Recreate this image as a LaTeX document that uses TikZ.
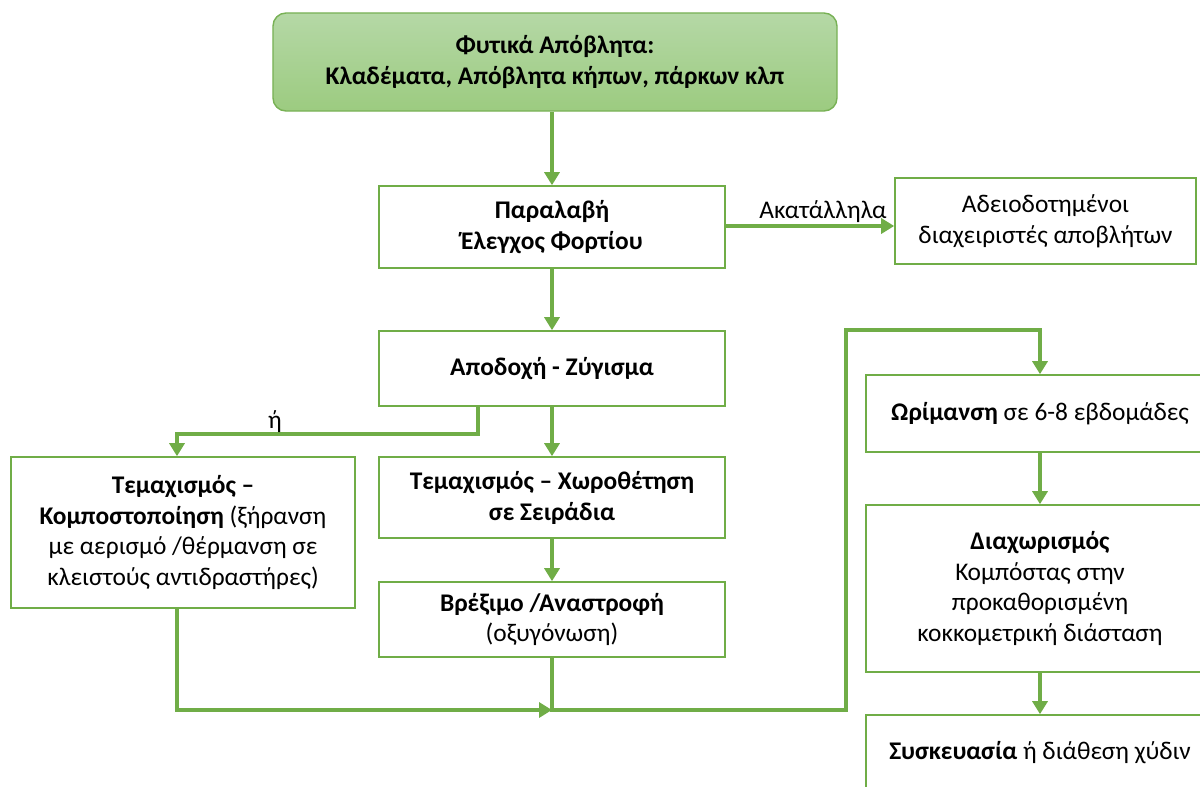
\documentclass[tikz,border=0pt]{standalone}
\usepackage{fontspec}
\setmainfont{Carlito}
\usetikzlibrary{arrows.meta,calc}
\definecolor{gline}{HTML}{70AD47}
\definecolor{gborder}{HTML}{78B155}
\definecolor{gtop}{HTML}{B5D8A6}
\definecolor{gbot}{HTML}{9CCB80}
\tikzset{
  stepbox/.style={draw=gline, line width=1.6bp, fill=white, align=center,
    inner sep=0pt, font=\fontsize{25.5}{31}\selectfont},
  headbox/.style={draw=gborder, line width=1.4bp, rounded corners=13bp,
    top color=gtop, bottom color=gbot, align=center, inner sep=0pt,
    font=\fontsize{25.5}{32}\selectfont\bfseries},
  flow/.style={draw=gline, line width=4bp,
    -{Triangle[width=15bp,length=13bp]}},
  lbl/.style={font=\fontsize{25.5}{31}\selectfont, inner sep=0pt}
}
\begin{document}
\begin{tikzpicture}[x=1bp,y=-1bp]
\useasboundingbox (0,0) rectangle (1200,787);
\clip (0,0) rectangle (1200,787);

% process boxes
\node[headbox, minimum width=564bp, minimum height=98bp] (src) at (555,62)
  {Φυτικά Απόβλητα:\\Κλαδέματα, Απόβλητα κήπων, πάρκων κλπ};
\node[stepbox, minimum width=346bp, minimum height=82bp] (recv) at (552,227)
  {\textbf{Παραλαβή}\\\textbf{Έλεγχος Φορτίου}};
\node[stepbox, minimum width=301bp, minimum height=86bp] (lic) at (1045.5,221)
  {Αδειοδοτημένοι\\διαχειριστές αποβλήτων};
\node[stepbox, minimum width=346bp, minimum height=75bp] (acc) at (552,368.5)
  {\textbf{Αποδοχή - Ζύγισμα}};
\node[stepbox, minimum width=344bp, minimum height=151bp] (comp) at (183,532.5)
  {\textbf{Τεμαχισμός –}\\\textbf{Κομποστοποίηση} (ξήρανση\\με αερισμό /θέρμανση σε\\κλειστούς αντιδραστήρες)};
\node[stepbox, minimum width=346bp, minimum height=81bp] (shred) at (552,497.5)
  {\textbf{Τεμαχισμός – Χωροθέτηση}\\\textbf{σε Σειράδια}};
\node[stepbox, minimum width=346bp, minimum height=75bp] (wet) at (552,619.5)
  {\textbf{Βρέξιμο /Αναστροφή}\\(οξυγόνωση)};
\node[stepbox, minimum width=348bp, minimum height=77bp] (mat) at (1040,413.5)
  {\textbf{Ωρίμανση} σε 6-8 εβδομάδες};
\node[stepbox, minimum width=348bp, minimum height=167bp] (sep) at (1040,588.5)
  {\textbf{Διαχωρισμός}\\Κομπόστας στην\\προκαθορισμένη\\κοκκομετρική διάσταση};
\node[stepbox, minimum width=348bp, minimum height=76bp] (pack) at (1040,753)
  {\textbf{Συσκευασία} ή διάθεση χύδιν};

% routing points
\coordinate (orTop) at (478,434);
\coordinate (orLeft) at (177,434);
\coordinate (merge) at (552,710);
\coordinate (cornerL) at (177,710);
\coordinate (riseB) at (846,710);
\coordinate (riseT) at (846,330);
\coordinate (matIn) at (1040,330);

% connectors
\draw[flow] (recv.north |- src.south) -- (recv.north);
\draw[flow] (recv.east |- 0,226) -- (lic.west |- 0,226);
\node[lbl] (unfit) at (823,212) {Ακατάλληλα};
\draw[flow] (recv.south) -- (acc.north);
\draw[flow] (acc.south) -- (shred.north);
\draw[flow] (acc.south -| orTop) -- (orTop) -- (orLeft) -- (orLeft |- comp.north);
\node[lbl] (or) at (275,422) {ή};
\draw[flow] (shred.south) -- (wet.north);
\draw[flow] (cornerL |- comp.south) -- (cornerL) -- (merge);
\draw[flow] (wet.south) -- (merge) -- (riseB) -- (riseT) -- (matIn) -- (mat.north);
\draw[flow] (mat.south) -- (sep.north);
\draw[flow] (sep.south) -- (pack.north);
\end{tikzpicture}
\end{document}
